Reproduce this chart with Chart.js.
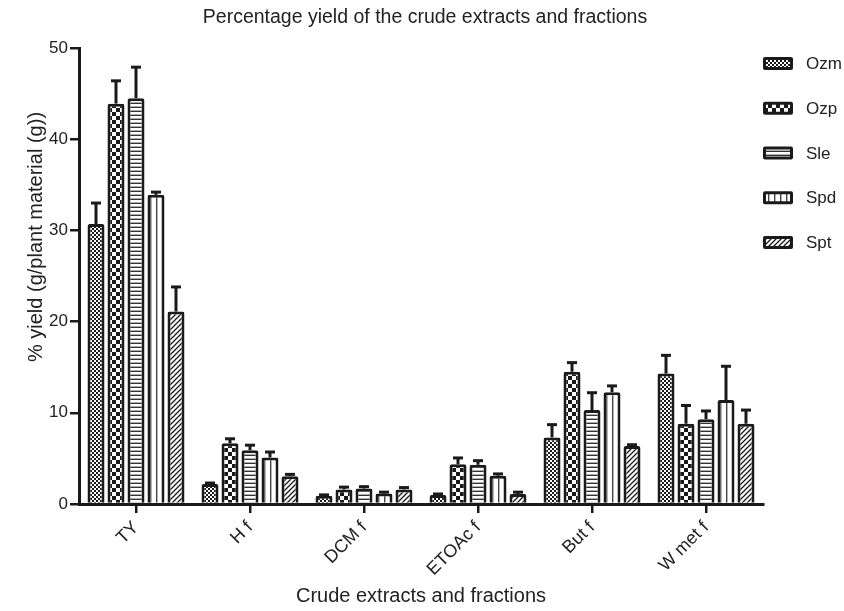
<!DOCTYPE html>
<html>
<head>
<meta charset="utf-8">
<title>Percentage yield of the crude extracts and fractions</title>
<script src="https://cdn.jsdelivr.net/npm/chart.js@4.4.0/dist/chart.umd.min.js"></script>
<style>
  html, body { margin: 0; padding: 0; background: #fff; }
  #wrap { width: 844px; height: 611px; }
</style>
</head>
<body>
<div id="wrap"><canvas id="yieldChart" width="844" height="611"></canvas></div>
<script>
// data
const categories = ["TY", "H f", "DCM f", "ETOAc f", "But f", "W met f"];
const seriesNames = ["Ozm", "Ozp", "Sle", "Spd", "Spt"];

const ozm = [30.7, 2.2, 0.9, 1.0, 7.3, 14.3];
const ozp = [43.9, 6.65, 1.6, 4.35, 14.5, 8.8];
const sle = [44.5, 5.9, 1.7, 4.3, 10.3, 9.3];
const spd = [33.9, 5.1, 1.15, 3.1, 12.25, 11.4];
const spt = [21.1, 3.05, 1.6, 1.1, 6.35, 8.8];

const ozmErr = [2.3, 0.1, 0.1, 0.1, 1.4, 2.0];
const ozpErr = [2.5, 0.5, 0.25, 0.7, 1.0, 2.0];
const sleErr = [3.4, 0.55, 0.2, 0.45, 1.9, 0.9];
const spdErr = [0.3, 0.6, 0.15, 0.2, 0.7, 3.7];
const sptErr = [2.7, 0.2, 0.2, 0.2, 0.15, 1.5];

const yTicks = [0, 10, 20, 30, 40, 50];

const FONT = "'Liberation Sans', Arial, Helvetica, sans-serif";
const INK = "#1a1a1a";
const TEXT = "#222";

const canvas = document.getElementById("yieldChart");
const ctx = canvas.getContext("2d");

// little tiles for the black & white fills
function makePattern(kind) {
  const t = document.createElement("canvas");
  const g = t.getContext("2d");
  if (kind === "fineCheck") {
    t.width = t.height = 4;
    g.fillStyle = "#fff"; g.fillRect(0, 0, 4, 4);
    g.fillStyle = INK; g.fillRect(0, 0, 2, 2); g.fillRect(2, 2, 2, 2);
  } else if (kind === "bigCheck") {
    t.width = t.height = 8;
    g.fillStyle = "#fff"; g.fillRect(0, 0, 8, 8);
    g.fillStyle = INK; g.fillRect(0, 0, 4, 4); g.fillRect(4, 4, 4, 4);
  } else if (kind === "hLines") {
    t.width = 4; t.height = 4;
    g.fillStyle = "#fff"; g.fillRect(0, 0, 4, 4);
    g.fillStyle = "#333"; g.fillRect(0, 2.6, 4, 1.4);
  } else if (kind === "vLines") {
    t.width = 6; t.height = 4;
    g.fillStyle = "#fff"; g.fillRect(0, 0, 6, 4);
    g.fillStyle = "#444"; g.fillRect(0, 0, 1.4, 4);
  } else {
    t.width = t.height = 5;
    g.fillStyle = "#fff"; g.fillRect(0, 0, 5, 5);
    g.strokeStyle = INK; g.lineWidth = 1.3;
    g.beginPath();
    g.moveTo(0, 5); g.lineTo(5, 0);
    g.moveTo(-1, 1); g.lineTo(1, -1);
    g.moveTo(4, 6); g.lineTo(6, 4);
    g.stroke();
  }
  return ctx.createPattern(t, "repeat");
}

const fills = [
  makePattern("fineCheck"),
  makePattern("bigCheck"),
  makePattern("hLines"),
  makePattern("vLines"),
  makePattern("diag")
];
const values = [ozm, ozp, sle, spd, spt];
const errors = [ozmErr, ozpErr, sleErr, spdErr, sptErr];

const datasets = seriesNames.map((name, i) => ({
  label: name,
  data: values[i],
  errors: errors[i],
  backgroundColor: fills[i],
  borderColor: INK,
  borderWidth: 3,
  borderSkipped: "bottom",
  borderRadius: { topLeft: 2, topRight: 2 },
  categoryPercentage: 0.877,
  barPercentage: 0.85
}));

// upward SEM bars with a cap
const errorBars = {
  id: "errorBars",
  afterDatasetsDraw(chart) {
    const c = chart.ctx;
    const y = chart.scales.y;
    c.save();
    c.strokeStyle = INK;
    c.lineWidth = 3;
    chart.data.datasets.forEach((ds, i) => {
      chart.getDatasetMeta(i).data.forEach((bar, j) => {
        const top = y.getPixelForValue(ds.data[j] + ds.errors[j]);
        c.beginPath();
        c.moveTo(bar.x, bar.y);
        c.lineTo(bar.x, top);
        c.stroke();
        c.beginPath();
        c.moveTo(bar.x - 5, top);
        c.lineTo(bar.x + 5, top);
        c.stroke();
      });
    });
    c.restore();
  }
};

// title, legend on the right, and the y title (sits above the axis centre in the original)
const sideBits = {
  id: "sideBits",
  afterDraw(chart) {
    const c = chart.ctx;
    c.save();
    c.fillStyle = TEXT;
    c.font = "19.5px " + FONT;
    c.textAlign = "center";
    c.textBaseline = "middle";
    c.fillText("Percentage yield of the crude extracts and fractions", 425, 17.5);

    chart.data.datasets.forEach((ds, i) => {
      const cy = 63.5 + 44.75 * i;
      const x = 763, w = 30, h = 13;
      c.fillStyle = INK;
      c.beginPath();
      c.roundRect(x, cy - h / 2, w, h, 2);
      c.fill();
      c.fillStyle = ds.backgroundColor;
      c.fillRect(x + 3, cy - h / 2 + 3, w - 6, h - 6);
      c.fillStyle = TEXT;
      c.font = "17px " + FONT;
      c.textAlign = "left";
      c.textBaseline = "middle";
      c.fillText(ds.label, 806, cy + 1);
    });

    c.translate(36, 237);
    c.rotate(-Math.PI / 2);
    c.fillStyle = TEXT;
    c.font = "20px " + FONT;
    c.textAlign = "center";
    c.textBaseline = "middle";
    c.fillText("% yield (g/plant material (g))", 0, 0);
    c.restore();
  }
};

const chart = new Chart(canvas, {
  type: "bar",
  data: { labels: categories, datasets },
  plugins: [errorBars, sideBits],
  options: {
    responsive: false,
    animation: false,
    devicePixelRatio: 1,
    layout: { padding: { left: 0, right: 81, top: 48, bottom: 0 } },
    plugins: {
      legend: { display: false },
      tooltip: { enabled: false },
      title: { display: false }
    },
    scales: {
      x: {
        offset: true,
        grid: {
          display: true,
          drawOnChartArea: false,
          drawTicks: true,
          tickLength: 9,
          offset: false,
          color: INK,
          lineWidth: 2.5
        },
        border: { display: true, color: INK, width: 3 },
        ticks: {
          autoSkip: false,
          minRotation: 45,
          maxRotation: 45,
          padding: 4,
          color: TEXT,
          font: { family: FONT, size: 18 }
        },
        title: {
          display: true,
          text: "Crude extracts and fractions",
          color: TEXT,
          font: { family: FONT, size: 20 },
          padding: { top: 0, bottom: 3 }
        },
        afterFit(scale) { scale.height = 107; }
      },
      y: {
        min: 0,
        max: 50,
        afterBuildTicks(scale) { scale.ticks = yTicks.map(v => ({ value: v })); },
        grid: {
          display: true,
          drawOnChartArea: false,
          drawTicks: true,
          tickLength: 9,
          color: INK,
          lineWidth: 2.5
        },
        border: { display: true, color: INK, width: 3 },
        ticks: {
          padding: 2,
          color: TEXT,
          font: { family: FONT, size: 17 }
        },
        afterFit(scale) { scale.width = 79; }
      }
    }
  }
});
</script>
</body>
</html>
